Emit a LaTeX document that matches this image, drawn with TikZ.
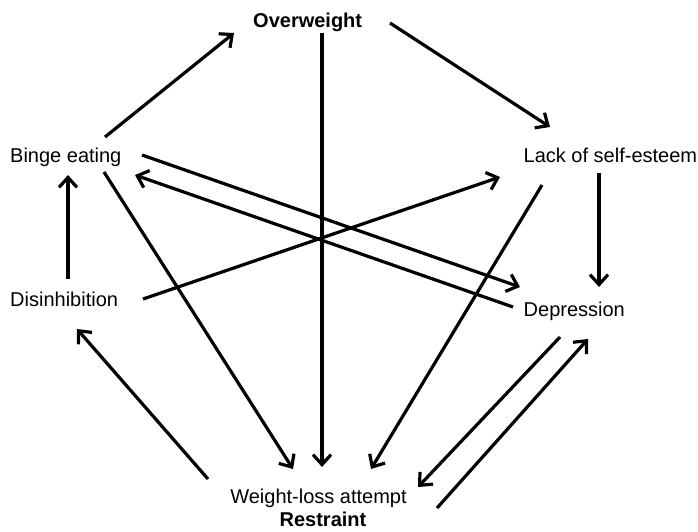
\documentclass[tikz,border=0pt]{standalone}
\usepackage{fontspec}
\setmainfont{Liberation Sans}
\usetikzlibrary{arrows.meta}
\begin{document}
\begin{tikzpicture}[x=1pt,y=-1pt,
  lbl/.style={inner sep=0pt, font=\fontsize{20}{24}\selectfont},
  blbl/.style={inner sep=0pt, font=\fontsize{20}{24}\selectfont\bfseries},
  conn/.style={line width=3.2pt, -{Straight Barb[length=10pt,width=18pt]}}]
\useasboundingbox (0,0) rectangle (698,531);
% nodes
\node[blbl, anchor=base west] (ow)   at (253,27)    {Overweight};
\node[lbl,  anchor=base west] (bin)  at (10,162.5)  {Binge eating};
\node[lbl,  anchor=base west] (lack) at (523.5,162.5) {Lack of self-esteem};
\node[lbl,  anchor=base west] (dis)  at (10,306)    {Disinhibition};
\node[lbl,  anchor=base west] (dep)  at (523.5,316) {Depression};
\node[lbl,  anchor=base]      (wla)  at (318.5,503) {Weight-loss attempt};
\node[blbl, anchor=base]      (res)  at (323,526.5) {Restraint};
% connector end points
\coordinate (bin-ow)   at (105,137);
\coordinate (ow-bin)   at (234,33);
\coordinate (ow-lack)  at (390,23);
\coordinate (lack-ow)  at (550,127);
\coordinate (ow-wla)   at (322,33);
\coordinate (wla-ow)   at (322,467);
\coordinate (lack-dep) at (599,173);
\coordinate (dep-lack) at (599,287);
\coordinate (dis-bin)  at (68,279);
\coordinate (bin-dis)  at (68,175);
\coordinate (dis-lack) at (143,299);
\coordinate (lack-dis) at (500,177);
\coordinate (bin-dep)  at (142,155);
\coordinate (dep-bin)  at (520,287);
\coordinate (dep-bin2) at (513,307);
\coordinate (bin-dep2) at (135,175);
\coordinate (bin-wla)  at (104,172);
\coordinate (wla-bin)  at (293,469);
\coordinate (lack-wla) at (542,185);
\coordinate (wla-lack) at (371,469);
\coordinate (dep-wla)  at (560,337);
\coordinate (wla-dep)  at (418,487);
\coordinate (wla-dep2) at (437,508);
\coordinate (dep-wla2) at (588,339);
\coordinate (wla-dis)  at (208,479);
\coordinate (dis-wla)  at (77,329);
% connectors
\draw[conn] (bin-ow) -- (ow-bin);
\draw[conn] (ow-lack) -- (lack-ow);
\draw[conn] (ow-wla) -- (wla-ow);
\draw[conn] (lack-dep) -- (dep-lack);
\draw[conn] (dis-bin) -- (bin-dis);
\draw[conn] (dis-lack) -- (lack-dis);
\draw[conn] (bin-dep) -- (dep-bin);
\draw[conn] (dep-bin2) -- (bin-dep2);
\draw[conn] (bin-wla) -- (wla-bin);
\draw[conn] (lack-wla) -- (wla-lack);
\draw[conn] (dep-wla) -- (wla-dep);
\draw[conn] (wla-dep2) -- (dep-wla2);
\draw[conn] (wla-dis) -- (dis-wla);
\end{tikzpicture}
\end{document}
